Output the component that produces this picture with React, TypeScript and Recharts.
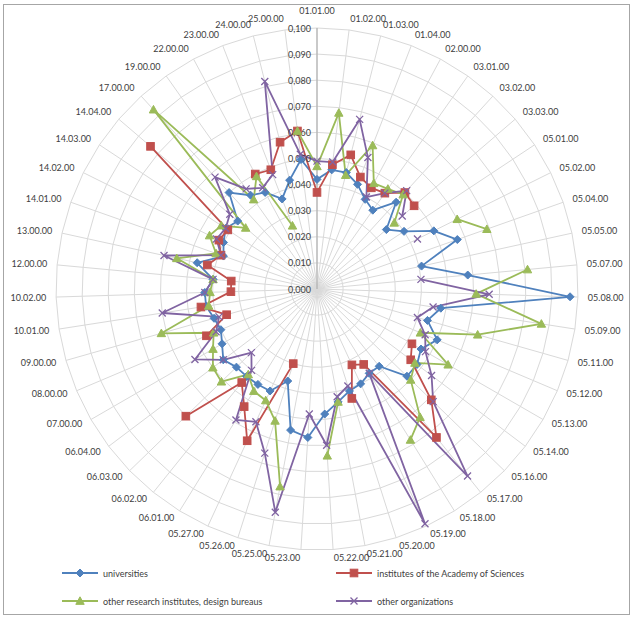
import React from "react";
import { RadarChart, Radar, PolarGrid, PolarAngleAxis, PolarRadiusAxis, Legend } from "recharts";

// category codes, clockwise from the top
const categories = [
  "01.01.00", "01.02.00", "01.03.00", "01.04.00", "02.00.00", "03.01.00", "03.02.00", "03.03.00",
  "05.01.00", "05.02.00", "05.04.00", "05.05.00", "05.07.00", "05.08.00", "05.09.00", "05.11.00",
  "05.12.00", "05.13.00", "05.14.00", "05.16.00", "05.17.00", "05.18.00", "05.19.00", "05.20.00",
  "05.21.00", "05.22.00", "05.23.00", "05.25.00", "05.26.00", "05.27.00", "06.01.00", "06.02.00",
  "06.03.00", "06.04.00", "07.00.00", "08.00.00", "09.00.00", "10.01.00", "10.02.00", "12.00.00",
  "13.00.00", "14.01.00", "14.02.00", "14.03.00", "14.04.00", "17.00.00", "19.00.00", "22.00.00",
  "23.00.00", "24.00.00", "25.00.00",
];

const universities = [
  0.042, 0.046, 0.046, 0.043, 0.039, 0.037, 0.045, 0.035, 0.040, 0.050,
  0.057, 0.041, 0.058, 0.097, 0.048, 0.044, 0.050, 0.046, 0.048, 0.048,
  0.038, 0.038, 0.040, 0.041, 0.044, 0.048, 0.057, 0.055, 0.037, 0.043,
  0.043, 0.043, 0.043, 0.045, 0.042, 0.040, 0.041, 0.043, 0.043, 0.040,
  0.047, 0.038, 0.040, 0.042, 0.040, 0.050, 0.044, 0.042, 0.037, 0.043,
  0.050,
];

const academy = [
  0.037, 0.048, 0.053, 0.046, 0.044, 0.045, 0.050, 0.049, null, null,
  null, null, null, null, null, null, null, 0.042, 0.045, 0.061,
  0.073, 0.034, 0.032, 0.044, null, null, null, null, 0.030, 0.064,
  0.053, 0.046, 0.070, null, null, 0.046, 0.036, 0.045, 0.033, 0.033,
  0.043, 0.039, 0.042, 0.041, 0.084, null, null, 0.050, 0.049, 0.058,
  0.061,
];

const research = [
  0.047, 0.068, 0.045, 0.059, 0.046, 0.047, 0.049, 0.039, null, 0.060,
  0.069, null, 0.081, 0.061, 0.087, 0.064, 0.043, 0.058, 0.047, 0.050,
  0.063, 0.068, null, null, 0.044, 0.064, null, 0.077, 0.053, 0.047,
  0.046, 0.042, 0.051, 0.050, 0.046, 0.043, 0.062, 0.042, 0.041, 0.040,
  0.055, 0.041, 0.046, 0.044, 0.036, 0.093, 0.042, 0.049, 0.026, null,
  0.061,
];

const otherOrgs = [
  0.049, 0.049, 0.067, 0.054, 0.040, 0.045, 0.051, 0.043, null, 0.043,
  null, null, 0.040, 0.066, 0.045, 0.040, 0.045, 0.048, 0.055, 0.062,
  0.092, 0.038, 0.099, 0.039, 0.042, 0.060, 0.048, 0.087, 0.066, 0.056,
  0.059, 0.040, 0.035, 0.045, 0.054, 0.042, 0.039, 0.060, 0.043, 0.040,
  0.060, 0.039, 0.043, 0.042, 0.044, 0.058, 0.047, 0.044, 0.047, 0.082,
  0.052,
];

const radiusTicks = [0, 0.01, 0.02, 0.03, 0.04, 0.05, 0.06, 0.07, 0.08, 0.09, 0.1];

const data = categories.map((code, i) => ({
  code,
  universities: universities[i],
  academy: academy[i],
  research: research[i],
  other: otherOrgs[i],
}));

const WIDTH = 636;
const HEIGHT = 619;
const CX = 317;
const CY = 289;
const R = 261;
const FONT = "Lato, 'Open Sans', sans-serif";

type MarkerKind = "diamond" | "square" | "triangle" | "cross";

const SERIES: { key: string; name: string; color: string; marker: MarkerKind; values: (number | null)[] }[] = [
  { key: "universities", name: "universities", color: "#4F81BD", marker: "diamond", values: universities },
  { key: "academy", name: "institutes of the Academy of Sciences", color: "#C0504D", marker: "square", values: academy },
  { key: "research", name: "other research institutes, design bureaus", color: "#9BBB59", marker: "triangle", values: research },
  { key: "other", name: "other organizations", color: "#8064A2", marker: "cross", values: otherOrgs },
];

function Marker({ kind, x, y, color }: { kind: MarkerKind; x: number; y: number; color: string }) {
  if (kind === "diamond") {
    const s = 4;
    return <path d={`M${x},${y - s}L${x + s},${y}L${x},${y + s}L${x - s},${y}Z`} fill={color} stroke={color} />;
  }
  if (kind === "square") {
    const s = 3.8;
    return <rect x={x - s} y={y - s} width={s * 2} height={s * 2} fill={color} stroke={color} />;
  }
  if (kind === "triangle") {
    const s = 4.2;
    return <path d={`M${x},${y - s}L${x + s},${y + s * 0.8}L${x - s},${y + s * 0.8}Z`} fill={color} stroke={color} />;
  }
  const s = 3.5;
  return (
    <path d={`M${x - s},${y - s}L${x + s},${y + s}M${x - s},${y + s}L${x + s},${y - s}`} stroke={color} strokeWidth={1.3} fill="none" />
  );
}

// Polygon with gaps where a value is missing; wraps from last category back to first
function gapShape(values: (number | null)[], color: string) {
  return (props: any) => {
    const pts = props.points || [];
    const n = pts.length;
    const ok = (i: number) => values[i] != null && pts[i] && Number.isFinite(pts[i].x);
    let d = "";
    let start = -1;
    for (let i = 0; i < n; i++) {
      if (!ok(i)) {
        start = i;
        break;
      }
    }
    if (start === -1) {
      d = pts.map((p: any, i: number) => `${i ? "L" : "M"}${p.x},${p.y}`).join("") + "Z";
    } else {
      let pen = false;
      for (let k = 1; k <= n; k++) {
        const i = (start + k) % n;
        if (ok(i)) {
          d += `${pen ? "L" : "M"}${pts[i].x},${pts[i].y}`;
          pen = true;
        } else pen = false;
      }
    }
    return <path d={d} fill="none" stroke={color} strokeWidth={1.8} strokeLinejoin="round" />;
  };
}

function markerDot(values: (number | null)[], kind: MarkerKind, color: string) {
  return (props: any) => {
    const { cx, cy, index } = props;
    if (values[index] == null || !Number.isFinite(cx)) return <g key={`e-${index}`} />;
    return (
      <g key={`m-${index}`}>
        <Marker kind={kind} x={cx} y={cy} color={color} />
      </g>
    );
  };
}

// Excel-like placement: label box hangs off the ring, left side right-aligned, right side left-aligned
const AngleTick = (props: any) => {
  const { payload, index } = props;
  const deg = (index * 360) / categories.length;
  const a = (deg * Math.PI) / 180;
  const s = Math.sin(a);
  const c = Math.cos(a);
  const x = CX + (R + 10) * s;
  let y: number;
  if (Math.abs(s) < 0.01) y = c > 0 ? 10 : CY + R + 8;
  else if (c > 0) y = CY - (R + 12) * c;
  else y = CY - (R + 8) * c;
  const anchor = Math.abs(s) < 0.01 ? "middle" : s > 0 ? "start" : "end";
  return (
    <text x={x} y={y} textAnchor={anchor} dominantBaseline="central" fontSize={9} fontFamily={FONT} fill="#404040">
      {payload.value}
    </text>
  );
};

const RadiusTick = (props: any) => {
  const { x, y, payload } = props;
  return (
    <text x={x - 6} y={y} textAnchor="end" dominantBaseline="central" fontSize={9} fontFamily={FONT} fill="#404040">
      {Number(payload.value).toFixed(3).replace(".", ",")}
    </text>
  );
};

const LegendContent = () => {
  const cols = [62, 336];
  const rows = [573, 601];
  return (
    <svg width={WIDTH} height={50} style={{ position: "absolute", left: 0, top: 0 }}>
      {SERIES.map((s, i) => {
        const x = cols[i % 2];
        const y = rows[Math.floor(i / 2)] - 560;
        return (
          <g key={s.key}>
            <line x1={x} y1={y} x2={x + 36} y2={y} stroke={s.color} strokeWidth={1.8} />
            <Marker kind={s.marker} x={x + 18} y={y} color={s.color} />
            <text x={x + 41} y={y} dominantBaseline="central" fontSize={9} fontFamily={FONT} fill="#404040">
              {s.name}
            </text>
          </g>
        );
      })}
    </svg>
  );
};

export default function App() {
  return (
    <div style={{ position: "absolute", left: 0, top: 0, width: WIDTH, height: HEIGHT, background: "#fff" }}>
      <div
        style={{
          position: "absolute",
          left: 3,
          top: 4,
          width: 627,
          height: 611,
          border: "1.5px solid #a6a6a6",
          boxSizing: "border-box",
        }}
      />
      <RadarChart
        width={WIDTH}
        height={HEIGHT}
        data={data}
        cx={CX}
        cy={CY}
        outerRadius={R}
        startAngle={90}
        endAngle={-270}
        margin={{ top: 0, right: 0, bottom: 0, left: 0 }}
      >
        <PolarGrid stroke="#d9d9d9" strokeWidth={1} gridType="polygon" />
        <PolarAngleAxis dataKey="code" tick={AngleTick} tickLine={false} axisLine={false} />
        <PolarRadiusAxis
          angle={90}
          domain={[0, 0.1]}
          ticks={radiusTicks as any}
          tickCount={11}
          tick={RadiusTick}
          axisLine={{ stroke: "#a6a6a6" }}
          allowDataOverflow
        />
        {SERIES.map((s) => (
          <Radar
            key={s.key}
            name={s.name}
            dataKey={s.key}
            stroke={s.color}
            fill="none"
            isAnimationActive={false}
            shape={gapShape(s.values, s.color)}
            dot={markerDot(s.values, s.marker, s.color)}
          />
        ))}
        <Legend
          content={LegendContent}
          wrapperStyle={{ position: "absolute", left: 0, top: 560, width: WIDTH, height: 50 }}
        />
      </RadarChart>
    </div>
  );
}
